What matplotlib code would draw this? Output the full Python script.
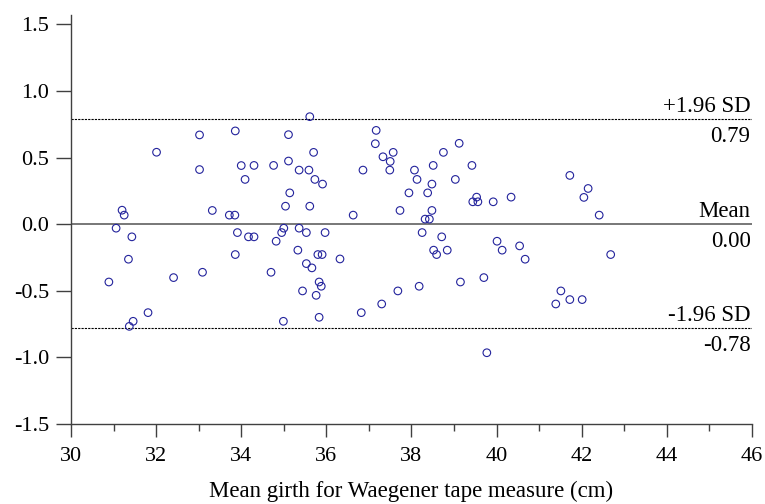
import numpy as np
import matplotlib
matplotlib.use("Agg")
import matplotlib.pyplot as plt
from matplotlib.ticker import MultipleLocator, FormatStrFormatter

plt.rcParams['font.family'] = ['Liberation Serif', 'DejaVu Serif']
plt.rcParams['axes.unicode_minus'] = False

# mean girth (cm) and difference
girth = [32.01, 33.02, 33.86, 33.02, 34.00, 31.20, 31.25, 33.32, 33.72, 33.85,
         31.06, 31.43, 33.91, 31.35, 33.86, 30.89, 32.41, 33.09, 31.81, 31.46, 31.37,
         35.61, 35.11, 37.17, 37.15, 35.70, 37.57, 37.33, 37.50, 34.30, 34.76,
         35.11, 35.36, 35.59, 36.86, 37.49, 34.09, 35.73, 35.91, 35.14, 37.94,
         35.04, 35.61, 36.63, 37.73, 34.17, 34.30, 35.00, 34.95, 34.82, 35.36,
         35.53, 35.97, 35.33, 35.80, 35.90, 36.32, 35.53, 35.66, 34.70, 35.83,
         35.88, 35.44, 35.76, 37.68, 37.30, 36.82, 34.99, 35.83,
         39.12, 38.75, 38.07, 38.51, 39.42, 38.13, 38.48, 39.03, 38.38, 39.53,
         39.44, 39.56, 39.92, 40.34, 41.72, 38.48, 38.32, 38.42, 38.25, 38.71,
         38.52, 38.59, 38.84, 40.01, 40.13, 40.54, 40.67, 38.18, 39.15, 39.70,
         41.51, 41.39, 41.72, 39.77,
         42.15, 42.05, 42.41, 42.68, 42.01]
diff = [0.54, 0.67, 0.70, 0.41, 0.44, 0.105, 0.068, 0.103, 0.068, 0.068,
        -0.03, -0.095, -0.063, -0.263, -0.228, -0.434, -0.401, -0.361, -0.664, -0.729, -0.767,
        0.807, 0.672, 0.704, 0.604, 0.539, 0.539, 0.506, 0.471, 0.441, 0.441,
        0.474, 0.406, 0.406, 0.406, 0.406, 0.336, 0.336, 0.301, 0.235, 0.235,
        0.135, 0.135, 0.068, 0.103, -0.095, -0.095, -0.03, -0.063, -0.128, -0.03,
        -0.063, -0.063, -0.195, -0.228, -0.228, -0.261, -0.296, -0.328, -0.361, -0.434,
        -0.466, -0.501, -0.534, -0.501, -0.599, -0.664, -0.729, -0.699,
        0.607, 0.539, 0.406, 0.441, 0.441, 0.336, 0.301, 0.336, 0.235, 0.203,
        0.168, 0.168, 0.168, 0.203, 0.366, 0.103, 0.038, 0.038, -0.063, -0.095,
        -0.195, -0.228, -0.195, -0.128, -0.195, -0.163, -0.263, -0.466, -0.434, -0.401,
        -0.501, -0.599, -0.566, -0.965,
        0.268, 0.201, 0.068, -0.228, -0.566]

mean_diff = 0.00
upper = 0.79
lower = -0.78

fig = plt.figure(figsize=(7.65, 5.04), dpi=100)
ax = fig.add_axes([0.0928, 0.1587, 0.8902, 0.8115])

ax.scatter(girth, diff, s=30, facecolors='none', edgecolors='#23239c', linewidths=0.8, zorder=3)

ax.axhline(mean_diff, color='#606060', lw=1.2, zorder=2)
ax.axhline(upper, color='black', lw=0.8, ls=(0, (2, 1)), zorder=2)
ax.axhline(lower, color='black', lw=0.8, ls=(0, (2, 1)), zorder=2)

labels = [(upper, '+1.96 SD', f'{upper:.2f}'),
          (mean_diff, 'Mean', f'{mean_diff:.2f}'),
          (lower, '-1.96 SD', f'{lower:.2f}')]
for yv, above, below in labels:
    ax.annotate(above, xy=(46, yv), xytext=(-1, 5), textcoords='offset points',
                ha='right', va='baseline', fontsize=16.5)
    ax.annotate(below, xy=(46, yv), xytext=(-1, -5), textcoords='offset points',
                ha='right', va='top', fontsize=16.5)

ax.set_xlim(30, 46)
ax.set_ylim(-1.5, 1.57)
ax.xaxis.set_major_locator(MultipleLocator(2))
ax.xaxis.set_minor_locator(MultipleLocator(1))
ax.yaxis.set_major_formatter(FormatStrFormatter('%.1f'))
ax.set_yticks(np.arange(-1.5, 1.51, 0.5))

for s in ['top', 'right']:
    ax.spines[s].set_visible(False)
for s in ['left', 'bottom']:
    ax.spines[s].set_color('#404040')
    ax.spines[s].set_linewidth(1.0)

ax.tick_params(axis='x', which='major', direction='out', length=9.5, width=1, color='#404040', labelsize=16, pad=7)
ax.tick_params(axis='x', which='minor', direction='out', length=5, width=1, color='#404040')
ax.tick_params(axis='y', which='major', direction='out', length=10.5, width=1, color='#404040', labelsize=16, pad=5)

ax.set_xlabel('Mean girth for Waegener tape measure (cm)', fontsize=16.5, labelpad=10.5)

fig.savefig('out.png', dpi=100)
